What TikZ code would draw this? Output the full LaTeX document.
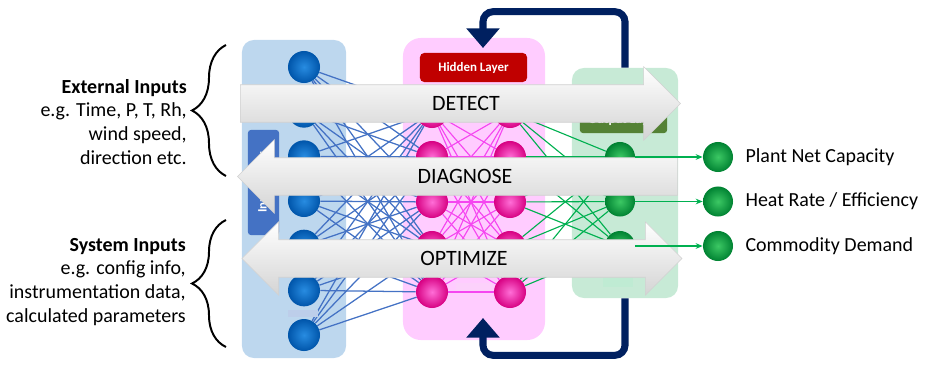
\documentclass[tikz,border=0pt]{standalone}
\usepackage{fontspec}
\setmainfont{Carlito}
\usetikzlibrary{arrows.meta,positioning,shapes.arrows,decorations.pathreplacing}
\definecolor{nninpanel}{RGB}{189,215,238}
\definecolor{nnhidpanel}{RGB}{255,204,255}
\definecolor{nnoutpanel}{RGB}{199,234,214}
\definecolor{nnblue}{RGB}{68,114,196}
\definecolor{nnmagenta}{RGB}{245,70,240}
\definecolor{nngreen}{RGB}{0,176,80}
\definecolor{nnred}{RGB}{192,0,0}
\definecolor{nnleaf}{RGB}{84,130,53}
\definecolor{nnnavy}{RGB}{0,32,96}
\pgfdeclarelayer{panels}
\pgfdeclarelayer{edges}
\pgfsetlayers{panels,edges,main}

\begin{document}
\begin{tikzpicture}[x=0.025cm,y=-0.025cm,
  panel/.style={rounded corners=0.3cm,inner sep=0pt},
  neuron/.style={circle,minimum size=0.8cm,inner sep=0pt},
  inneuron/.style={neuron,inner color={rgb,255:red,40;green,140;blue,225},outer color={rgb,255:red,0;green,85;blue,170}},
  hidneuron/.style={neuron,inner color={rgb,255:red,255;green,110;blue,215},outer color={rgb,255:red,215;green,0;blue,130}},
  outneuron/.style={neuron,minimum size=0.75cm,inner color={rgb,255:red,60;green,200;blue,100},outer color={rgb,255:red,0;green,130;blue,50}},
  layertag/.style={rounded corners=2pt,inner sep=0pt,text=white,font=\fontsize{9.2}{10}\selectfont\bfseries},
  flow/.style={draw=black!18,line width=0.4pt,top color=white,bottom color=black!17,
    text height=11pt,text depth=0pt,inner xsep=2pt,inner ysep=7.65pt,minimum height=11cm},
  flowtext/.style={inner sep=0pt,font=\fontsize{15.6}{18}\selectfont},
  sidetext/.style={align=right,inner sep=0pt,font=\fontsize{14.2}{17}\selectfont},
  outlabel/.style={inner sep=0pt,anchor=west,font=\fontsize{14.2}{17}\selectfont},
  inbrace/.style={decorate,decoration={brace,amplitude=0.85cm},line width=1.4pt},
  feedback/.style={draw=nnnavy,line width=5pt,rounded corners=0.25cm,-{Triangle[width=23pt,length=14pt]}}
]
  \useasboundingbox (0,0) rectangle (936,368);

  % layer panels
  \begin{pgfonlayer}{panels}
    \node[panel,fill=nninpanel,minimum width=2.6cm,minimum height=7.95cm] (inp) at (294,199) {};
    \node[panel,fill=nnhidpanel,rounded corners=0.45cm,minimum width=3.55cm,minimum height=7.55cm] (hidp) at (474,189) {};
    \node[panel,fill=nnoutpanel,minimum width=2.65cm,minimum height=5.75cm] (outp) at (625,183) {};
  \end{pgfonlayer}

  % neurons
  \foreach \i in {0,...,6}
    \node[inneuron] (in\i) at (304,67+44.67*\i) {};
  \foreach \j in {0,...,4} {
    \node[hidneuron] (ha\j) at (432,112+45*\j) {};
    \node[hidneuron] (hb\j) at (510,112+45*\j) {};
  }
  \foreach \k in {0,...,2}
    \node[outneuron] (out\k) at (620,157+44.5*\k) {};

  % weights
  \begin{pgfonlayer}{edges}
    \foreach \i in {0,...,6}
      \foreach \j in {0,...,4}
        \draw[nnblue,line width=0.9pt] (in\i) -- (ha\j);
    \foreach \i in {0,...,4}
      \foreach \j in {0,...,4}
        \draw[nnmagenta,line width=0.8pt] (ha\i) -- (hb\j);
    \foreach \i in {0,...,4}
      \foreach \k in {0,...,2}
        \draw[nngreen,line width=0.8pt] (hb\i) -- (out\k);
  \end{pgfonlayer}

  % ellipsis bars
  \fill[nnblue!35] (288,310) rectangle (318,317);
  \fill[nnmagenta!25] (456,283) rectangle (492,291);
  \fill[nngreen!25] (603,277) rectangle (633,287);

  % layer tags
  \node[layertag,fill=nnblue,rotate=90,minimum width=2.625cm,minimum height=0.775cm] (intag) at (263.5,182.5) {Input Layer};
  \node[layertag,fill=nnred,rounded corners=3pt,minimum width=2.675cm,minimum height=0.725cm] (hidtag) at (473.5,67.5) {Hidden Layer};
  \node[layertag,fill=nnleaf,minimum width=2.175cm,minimum height=0.625cm] (outtag) at (623.5,120.5) {Output Layer};

  % big process arrows
  \node[flow,single arrow,single arrow head extend=12.8pt] (detect) at (451,103.5) {};
  \node[flow,single arrow,single arrow head extend=12.8pt,shape border rotate=180] (diagnose) at (467,176.5) {};
  \node[flow,double arrow,double arrow head extend=12.8pt] (optimize) at (462,258.5) {};
  \node[flowtext] (detectlbl) at (466,103.5) {DETECT};
  \node[flowtext] (diagnoselbl) at (465,176.5) {DIAGNOSE};
  \node[flowtext] (optimizelbl) at (464,258.5) {OPTIMIZE};

  % feedback loop
  \coordinate (fbtop) at (483,48);
  \coordinate (fbbot) at (483,318);
  \draw[feedback] (outp.north) -- ++(0,-56) -| (fbtop);
  \draw[feedback] (outp.south) -- ++(0,57) -| (fbbot);

  % outputs
  \foreach \k/\txt in {0/{Plant Net Capacity},1/{Heat Rate / Efficiency},2/{Commodity Demand}} {
    \node[outneuron] (res\k) at (718,157+44.5*\k) {};
    \node[outlabel,right=0.3cm of res\k] (reslbl\k) {\txt};
    \draw[nngreen,line width=1pt,-{Stealth[length=5pt,width=4pt]}] (out\k) -- (res\k);
  }

  % input groups
  \node[sidetext,anchor=east] (extin) at (187,122) {\textbf{External Inputs}\\e.g. Time, P, T, Rh,\\wind speed,\\direction etc.};
  \node[sidetext,anchor=east] (sysin) at (186,282) {\textbf{System Inputs}\\e.g. config info,\\instrumentation data,\\calculated parameters};
  \draw[inbrace] (226,176) -- (226,45);
  \draw[inbrace] (226,347) -- (226,220);
\end{tikzpicture}
\end{document}
